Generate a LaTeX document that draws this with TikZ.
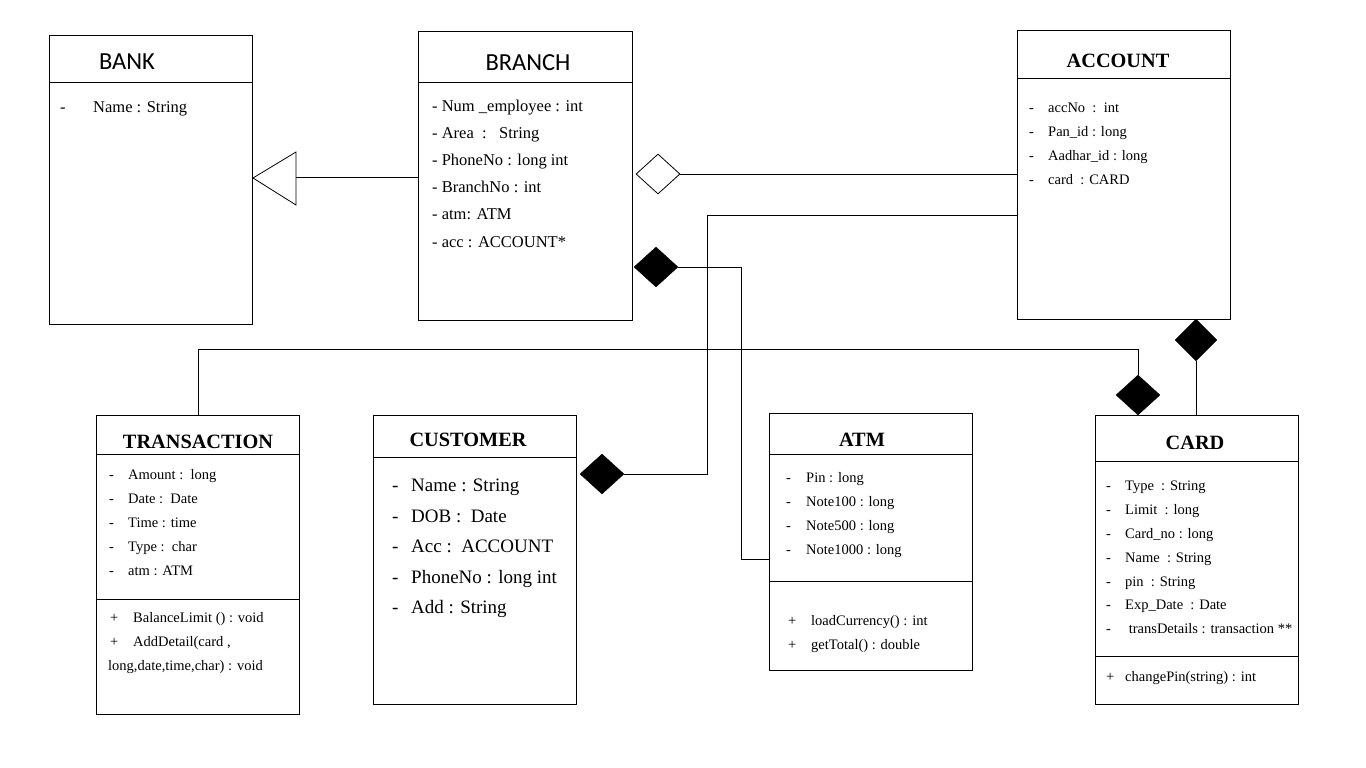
\documentclass[tikz,border=0pt]{standalone}
\usepackage{fontspec}
\setmainfont{Liberation Serif}
\newfontfamily\calib{Carlito}
\usetikzlibrary{shapes.geometric}
\begin{document}
\begin{tikzpicture}[x=1pt,y=-1pt,
  cls/.style={draw,line width=0.9pt,inner sep=0,outer sep=0,anchor=north west},
  div/.style={line width=0.9pt},
  conn/.style={line width=0.9pt},
  stitle/.style={inner sep=0,yshift=-1pt,font=\calib\fontsize{24.5}{26}\selectfont},
  title/.style={inner sep=0,yshift=-1pt,font=\bfseries\fontsize{20.3}{23}\selectfont},
  txt/.style={anchor=west,inner sep=0,yshift=-2pt,execute at begin node=\strut},
  sm/.style={txt,font=\fontsize{14.5}{17}\selectfont},
  md/.style={txt,font=\fontsize{16.5}{19}\selectfont},
  lg/.style={txt,font=\fontsize{19}{22}\selectfont},
  fdia/.style={diamond,fill=black,draw=black,inner sep=0,minimum width=44pt,minimum height=40pt},
  odia/.style={diamond,fill=white,draw=black,line width=0.8pt,inner sep=0,minimum width=44pt,minimum height=40pt}]
\useasboundingbox[fill=white] (0,0) rectangle (1366,768);

% ---------- BANK
\node[cls,minimum width=203pt,minimum height=289pt] (bank) at (49,35) {};
\draw[div] (bank.west |- 0,82) -- (bank.east |- 0,82);
\node[stitle] (bankT) at (127,61) {BANK};
\node[md] (bank1) at (60,107) {-};
\node[md] (bank2) at (93,107) {Name : String};

% ---------- BRANCH
\node[cls,minimum width=214pt,minimum height=289pt] (branch) at (418,31) {};
\draw[div] (branch.west |- 0,82) -- (branch.east |- 0,82);
\node[stitle] (branchT) at (528,62) {BRANCH};
\node[md] (br1) at (432,106) {- Num \_employee : int};
\node[md] (br2) at (432,133) {- Area~~:~~~String};
\node[md] (br3) at (432,160) {- PhoneNo : long int};
\node[md] (br4) at (432,187) {- BranchNo : int};
\node[md] (br5) at (432,214) {- atm: ATM};
\node[md] (br6) at (432,242) {- acc : ACCOUNT*};

% ---------- ACCOUNT
\node[cls,minimum width=213pt,minimum height=289pt] (acc) at (1017,30) {};
\draw[div] (acc.west |- 0,78) -- (acc.east |- 0,78);
\node[title] (accT) at (1118,60) {ACCOUNT};
\foreach \n/\y/\t in {1/107/{accNo~~:~~int},2/131/{Pan\_id : long},3/155/{Aadhar\_id : long},4/179/{card~~: CARD}}{
  \node[sm] (accd\n) at (1029,\y) {-};
  \node[sm] (acca\n) at (1048,\y) {\t};
}

% ---------- TRANSACTION
\node[cls,minimum width=203pt,minimum height=299pt] (trans) at (96,415) {};
\draw[div] (trans.west |- 0,454) -- (trans.east |- 0,454);
\draw[div] (trans.west |- 0,599) -- (trans.east |- 0,599);
\node[title] (transT) at (198,441) {TRANSACTION};
\foreach \n/\y/\t in {1/474/{Amount :~~long},2/498/{Date :~~Date},3/522/{Time : time},4/546/{Type :~~char},5/570/{atm : ATM}}{
  \node[sm] (trd\n) at (109,\y) {-};
  \node[sm] (tra\n) at (128,\y) {\t};
}
\node[sm] (trp1) at (110,617) {+};
\node[sm] (trm1) at (133,617) {BalanceLimit () : void};
\node[sm] (trp2) at (110,641) {+};
\node[sm] (trm2) at (133,641) {AddDetail(card ,};
\node[sm] (trm3) at (108,665) {long,date,time,char) : void};

% ---------- CUSTOMER
\node[cls,minimum width=203pt,minimum height=289pt] (cust) at (373,415) {};
\draw[div] (cust.west |- 0,457) -- (cust.east |- 0,457);
\node[title] (custT) at (468,439) {CUSTOMER};
\foreach \n/\y/\t in {1/485/{Name : String},2/516/{DOB :~~Date},3/546/{Acc :~~ACCOUNT},4/577/{PhoneNo : long int},5/607/{Add : String}}{
  \node[lg] (cud\n) at (392,\y) {-};
  \node[lg] (cua\n) at (411,\y) {\t};
}

% ---------- ATM
\node[cls,minimum width=203pt,minimum height=257pt] (atm) at (769,413) {};
\draw[div] (atm.west |- 0,454) -- (atm.east |- 0,454);
\draw[div] (atm.west |- 0,581) -- (atm.east |- 0,581);
\node[title] (atmT) at (862,439) {ATM};
\foreach \n/\y/\t in {1/477/{Pin : long},2/501/{Note100 : long},3/525/{Note500 : long},4/549/{Note1000 : long}}{
  \node[sm] (atd\n) at (786,\y) {-};
  \node[sm] (ata\n) at (806,\y) {\t};
}
\node[sm] (atp1) at (788,620) {+};
\node[sm] (atm1) at (811,620) {loadCurrency() : int};
\node[sm] (atp2) at (788,644) {+};
\node[sm] (atm2) at (811,644) {getTotal() : double};

% ---------- CARD
\node[cls,minimum width=203pt,minimum height=289pt] (card) at (1095,415) {};
\draw[div] (card.west |- 0,461) -- (card.east |- 0,461);
\draw[div] (card.west |- 0,656) -- (card.east |- 0,656);
\node[title] (cardT) at (1195,442) {CARD};
\foreach \n/\y/\t in {1/485/{Type~~: String},2/509/{Limit~~: long},3/533/{Card\_no : long},4/557/{Name~~: String},5/581/{pin~~: String},6/604/{Exp\_Date~~: Date},7/628/{~transDetails : transaction **}}{
  \node[sm] (cad\n) at (1106,\y) {-};
  \node[sm] (caa\n) at (1125,\y) {\t};
}
\node[sm] (cap1) at (1106,676) {+};
\node[sm] (cam1) at (1125,676) {changePin(string) : int};

% ---------- connectors
% generalization BRANCH -> BANK
\coordinate (tTip) at (253,178);
\coordinate (tBase) at (296,177);
\coordinate (tTop) at (296,152);
\coordinate (tBot) at (296,205);
\draw[line width=0.8pt] (tTip) -- (tTop) -- (tBot) -- cycle;
\draw[conn] (tBase) -- (tBase -| branch.west);

% aggregation BRANCH <>-- ACCOUNT
\node[odia] (dAg) at (658,174) {};
\draw[conn] (dAg.east) -- (dAg.east -| acc.west);

% composition BRANCH -- ATM
\node[fdia] (dBr) at (656,267) {};
\coordinate (k1) at (741,559);
\draw[conn] (dBr.east) -| (k1) -- (k1 -| atm.west);

% composition CUSTOMER -- ACCOUNT
\node[fdia] (dCu) at (602,474) {};
\coordinate (k2) at (707,215);
\draw[conn] (k2 -| acc.west) -- (k2) |- (dCu.east);

% composition CARD -- TRANSACTION
\node[fdia] (dCa) at (1138,395) {};
\coordinate (k3) at (198,349);
\draw[conn] (trans.north -| k3) -- (k3) -| (dCa.north);

% composition ACCOUNT -- CARD
\node[fdia,minimum width=42pt,minimum height=42pt] (dAc) at (1196,340) {};
\draw[conn] (dAc.south) -- (dAc.south |- card.north);
\end{tikzpicture}
\end{document}
